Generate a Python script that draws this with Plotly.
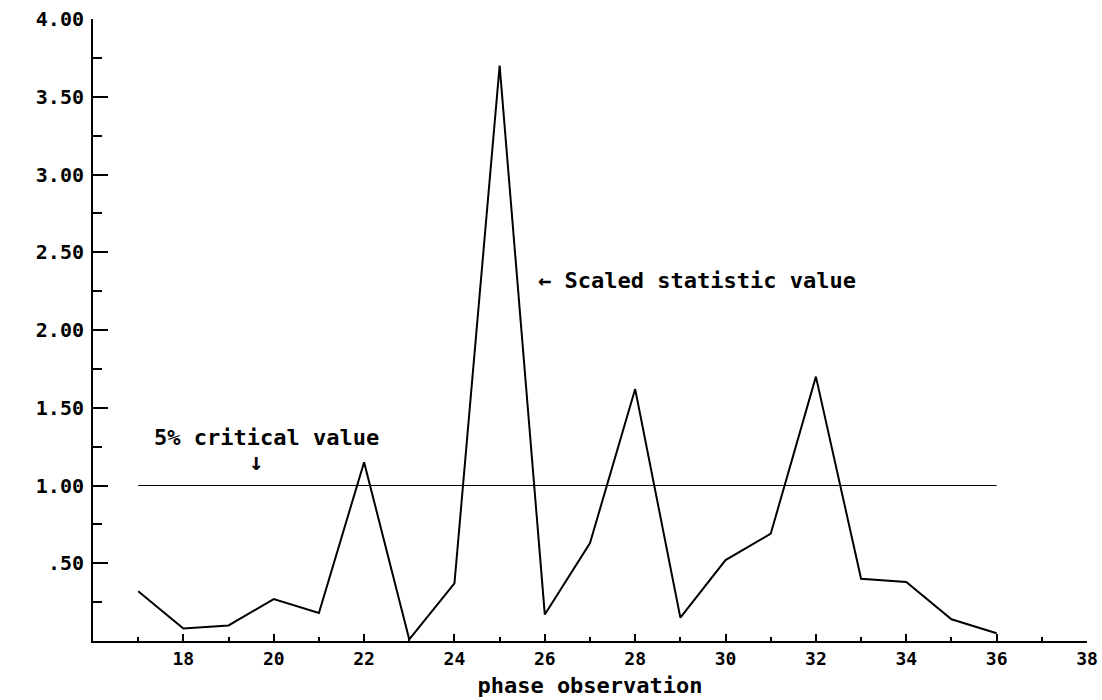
import plotly.graph_objects as go

# Data
obs = [17, 18, 19, 20, 21, 22, 23, 24, 25, 26, 27, 28, 29, 30, 31, 32, 33, 34, 35, 36]
stat = [0.32, 0.08, 0.10, 0.27, 0.18, 1.15, 0.01, 0.37, 3.70, 0.17, 0.63, 1.62, 0.15,
        0.52, 0.69, 1.70, 0.40, 0.38, 0.14, 0.05]

crit_x = [17, 36]
crit_y = [1.0, 1.0]

y_tickvals = [0.5, 1.0, 1.5, 2.0, 2.5, 3.0, 3.5, 4.0]
y_ticktext = [".50", "1.00", "1.50", "2.00", "2.50", "3.00", "3.50", "4.00"]
x_tickvals = [18, 20, 22, 24, 26, 28, 30, 32, 34, 36, 38]
x_ticktext = ["18", "20", "22", "24", "26", "28", "30", "32", "34", "36", "38"]

FONT = "DejaVu Sans Mono"

fig = go.Figure()
fig.add_trace(go.Scatter(x=crit_x, y=crit_y, mode="lines",
                         line=dict(color="black", width=1.2), hoverinfo="skip"))
fig.add_trace(go.Scatter(x=obs, y=stat, mode="lines",
                         line=dict(color="black", width=2)))

fig.add_annotation(x=19.85, y=1.31, text="<b>5% critical value</b>", showarrow=False,
                   font=dict(family=FONT, size=22, color="black"))
fig.add_annotation(x=19.6, y=1.15, text="<b>↓</b>", showarrow=False,
                   font=dict(family=FONT, size=24, color="black"))
fig.add_annotation(x=25.8, y=2.32, text="<b>← Scaled statistic value</b>", showarrow=False,
                   xanchor="left", font=dict(family=FONT, size=22, color="black"))

fig.update_layout(
    width=1102, height=700,
    margin=dict(l=93, r=15, t=19, b=59),
    paper_bgcolor="white", plot_bgcolor="white",
    showlegend=False,
    font=dict(family=FONT, color="black"),
)
fig.update_xaxes(
    range=[16, 38], showgrid=False, zeroline=False, automargin=False,
    showline=True, linecolor="black", linewidth=2,
    ticks="inside", ticklen=7, tickwidth=2, tickcolor="black",
    tickvals=x_tickvals, ticktext=x_ticktext,
    tickfont=dict(family=FONT, size=18, weight="bold"),
    ticklabeloverflow="allow", ticklabelstandoff=0,
    minor=dict(dtick=1, tick0=16, ticks="inside", ticklen=4, tickwidth=2, tickcolor="black", showgrid=False),
    title=dict(text="<b>phase observation</b>", font=dict(family=FONT, size=22), standoff=10),
)
fig.update_yaxes(
    range=[0, 4], showgrid=False, zeroline=False, automargin=False,
    showline=True, linecolor="black", linewidth=2,
    ticks="inside", ticklen=15, tickwidth=2, tickcolor="black",
    tickvals=y_tickvals, ticktext=y_ticktext,
    tickfont=dict(family=FONT, size=20, weight="bold"),
    ticklabelstandoff=3,
    minor=dict(dtick=0.25, tick0=0, ticks="inside", ticklen=9, tickwidth=2, tickcolor="black", showgrid=False),
)

fig.write_html("out.html")
